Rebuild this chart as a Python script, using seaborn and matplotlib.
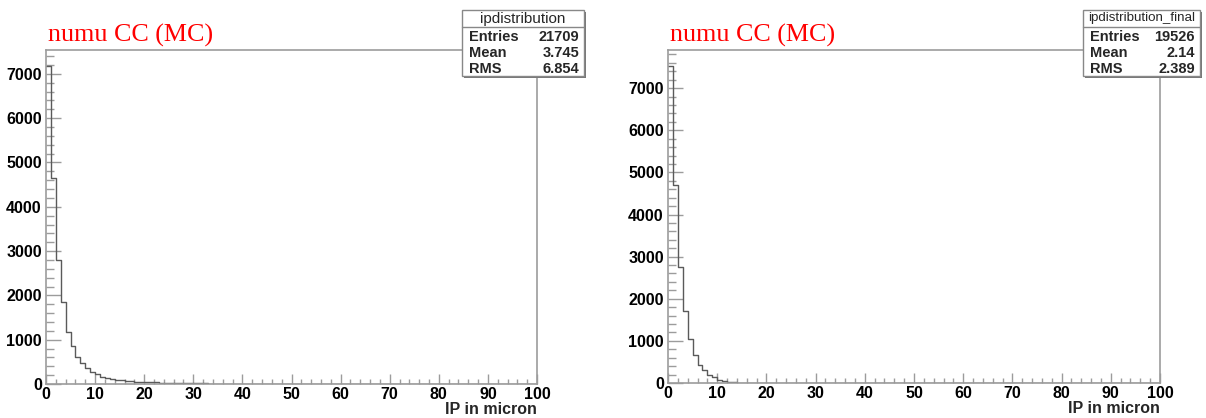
#!/usr/bin/env python3
# -*- coding: utf-8 -*-
"""
IP distribution, numu CC (MC) - before and after final selection
"""
#%% load modules
import matplotlib
matplotlib.use('Agg')
import matplotlib.pyplot as plt
import numpy as np
import pandas as pd
import seaborn as sns
from matplotlib.patches import Rectangle
from matplotlib.ticker import MultipleLocator

#%% data - bin contents, 1 micron bins from 0 to 100
bin_edges = list(range(0, 101))

counts_all = [7180, 4640, 2800, 1860, 1165, 865, 617, 466, 353, 278,
              218, 165, 128, 105, 92, 80, 70, 62, 55, 50,
              45, 40, 36, 32, 29, 26, 20, 18, 16, 15,
              14, 12, 12, 10, 10, 9, 8, 8, 7, 7,
              6, 6, 5, 5, 5, 4, 4, 4, 3, 3,
              2, 2, 2, 1, 1, 1, 1, 1, 1, 1] + [0] * 40

counts_final = [7530, 4700, 2750, 1715, 1043, 672, 435, 300, 198, 142,
                63, 40, 24, 18, 10] + [0] * 85

titles = ['numu CC (MC)', 'numu CC (MC)']
stat_names = ['ipdistribution', 'ipdistribution_final']
stat_entries = ['21709', '19526']
stat_mean = ['3.745', '2.14']
stat_rms = ['6.854', '2.389']
xlabel = 'IP in micron'

#%% style
sns.set_theme(style='white')
plt.rcParams['font.family'] = ['Liberation Sans', 'DejaVu Sans']
frame_col = '#9c9c9c'
hist_col = '#5a5a5a'

W, H = 1206, 418
fig = plt.figure(figsize=(W / 100, H / 100), dpi=100)
fig.patch.set_facecolor('white')

# axes boxes in pixels: left, right, top, bottom
frames = [(46, 537, 50, 384), (668, 1160, 50, 383)]
boxes = [(462, 584, 10, 76), (1083, 1200, 10, 76)]
all_counts = [counts_all, counts_final]

for k in range(2):
    l, r, t, b = frames[k]
    ax = fig.add_axes([l / W, (H - b) / H, (r - l) / W, (b - t) / H])
    ax.set_facecolor('white')

    df = pd.DataFrame({'centre': np.array(bin_edges[:-1]) + 0.5,
                       'n': all_counts[k]})
    sns.histplot(data=df, x='centre', weights='n', bins=bin_edges,
                 element='step', fill=False, color=hist_col, lw=1.0, ax=ax)

    ax.set_xlim(0, 100)
    ax.set_ylim(0, 1.05 * max(all_counts[k]))
    ax.set_ylabel('')
    ax.set_xlabel('')

    for s in ax.spines.values():
        s.set_color(frame_col)
        s.set_linewidth(1.2)
        s.set_visible(True)

    ax.xaxis.set_major_locator(MultipleLocator(10))
    ax.xaxis.set_minor_locator(MultipleLocator(2))
    ax.yaxis.set_major_locator(MultipleLocator(1000))
    ax.yaxis.set_minor_locator(MultipleLocator(200))
    ax.tick_params(axis='y', which='major', direction='in', length=10.8,
                   width=1.0, color=frame_col, left=True, right=False,
                   pad=3, labelsize=11.5, labelcolor='black')
    ax.tick_params(axis='y', which='minor', direction='in', length=5.4,
                   width=1.0, color=frame_col, left=True, right=False)
    ax.tick_params(axis='x', which='major', direction='in', length=7.5,
                   width=1.0, color=frame_col, bottom=True, top=False,
                   pad=2, labelsize=11.5, labelcolor='black')
    ax.tick_params(axis='x', which='minor', direction='in', length=3.8,
                   width=1.0, color=frame_col, bottom=True, top=False)
    for lab in ax.get_xticklabels() + ax.get_yticklabels():
        lab.set_fontweight('bold')

    ax.set_xlabel(xlabel, fontsize=11.5, fontweight='bold', loc='right',
                  labelpad=0)

    # red title
    fig.text((l + 2) / W, (H - 42) / H, titles[k], color='red',
             fontsize=18.7, family='Liberation Serif', ha='left',
             va='baseline')

    # stats box
    bl, br, bt, bb = boxes[k]
    shadow = Rectangle(((bl + 1.5) / W, (H - bb - 1.5) / H), (br - bl) / W,
                       (bb - bt) / H, transform=fig.transFigure,
                       facecolor='#777777', edgecolor='none', zorder=9)
    box = Rectangle((bl / W, (H - bb) / H), (br - bl) / W, (bb - bt) / H,
                    transform=fig.transFigure, facecolor='white',
                    edgecolor='#888888', lw=1.0, zorder=10)
    fig.add_artist(shadow)
    fig.add_artist(box)
    fig.add_artist(plt.Line2D([bl / W, br / W], [(H - 27) / H, (H - 27) / H],
                              transform=fig.transFigure, color='#888888',
                              lw=1.0, zorder=11))
    title_size = 11 if k == 0 else 9.6
    fig.text((bl + br) / 2 / W, (H - 18.5) / H, stat_names[k],
             fontsize=title_size, ha='center', va='center', zorder=12)
    rows = [('Entries', stat_entries[k]), ('Mean', stat_mean[k]),
            ('RMS', stat_rms[k])]
    for j, (name, val) in enumerate(rows):
        yy = (H - (37 + 16 * j)) / H
        fig.text((bl + 7) / W, yy, name, fontsize=10.5, fontweight='bold',
                 ha='left', va='center', zorder=12)
        fig.text((br - 5) / W, yy, val, fontsize=10.5, fontweight='bold',
                 ha='right', va='center', zorder=12)

fig.savefig('out.png', dpi=100, facecolor='white')
